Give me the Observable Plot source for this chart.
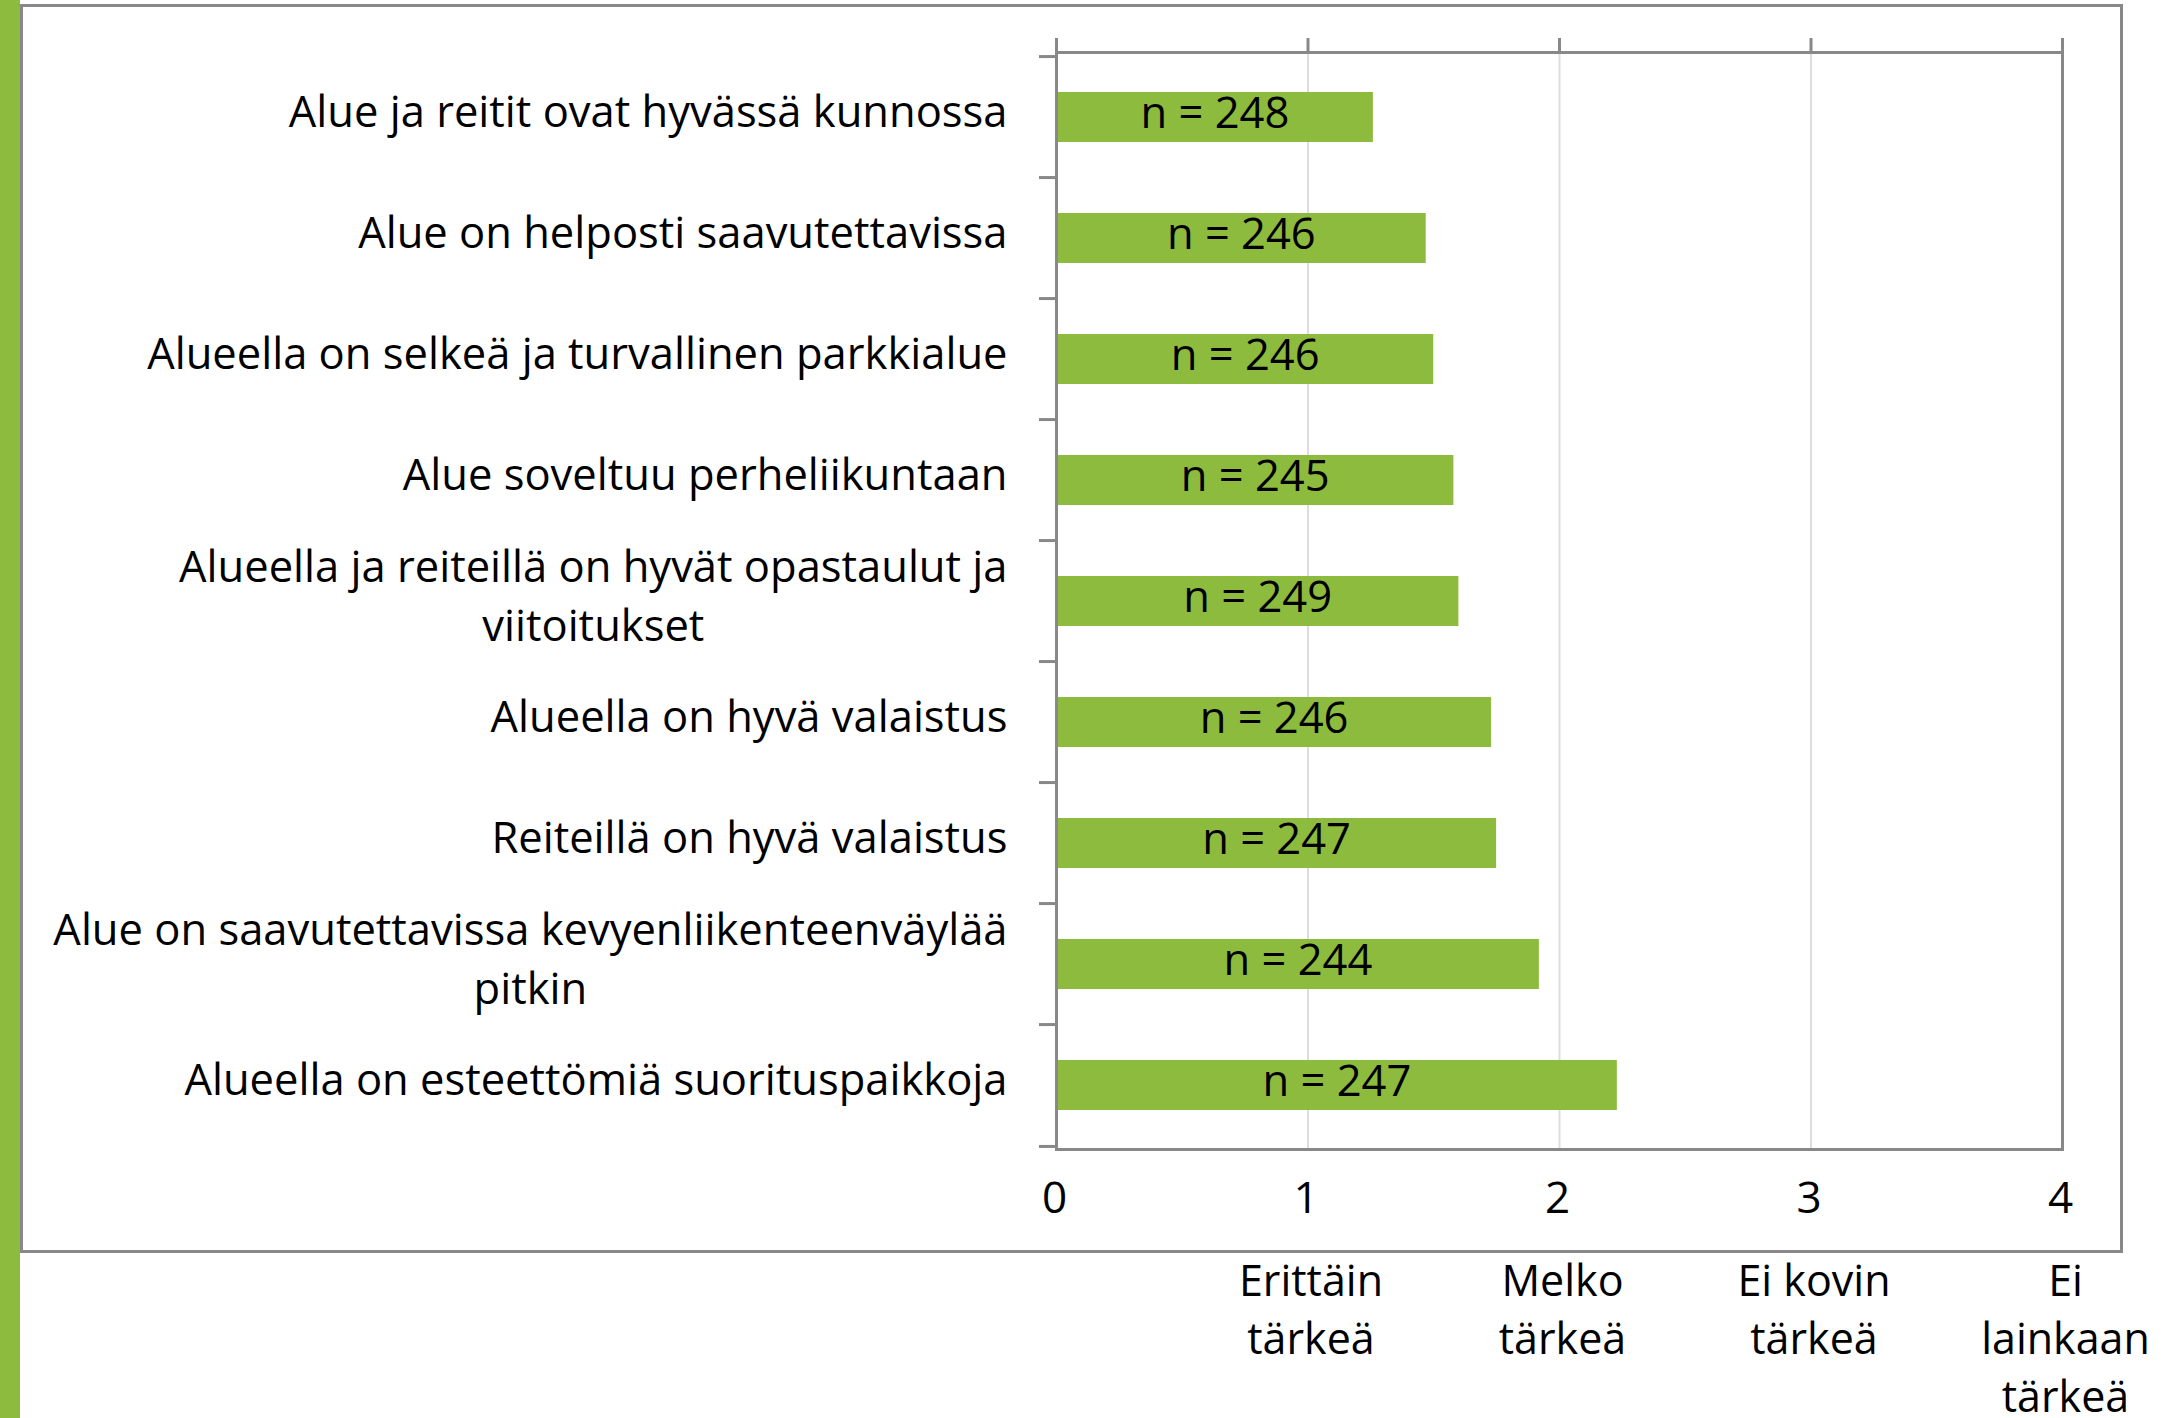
<!DOCTYPE html>
<html>
<head>
<meta charset="utf-8">
<script src="https://cdn.jsdelivr.net/npm/d3@7"></script>
<script src="https://cdn.jsdelivr.net/npm/@observablehq/plot@0.6"></script>
<style>
  html, body { margin: 0; padding: 0; background: #fff; overflow: hidden; }
  #page { position: relative; width: 2163px; height: 1418px; }
  #stripe { position: absolute; left: 0; top: 0; width: 20px; height: 1418px; background: #8dbb3e; }
  #box { position: absolute; left: 20px; top: 4px; width: 2103px; height: 1249px; box-sizing: border-box;
         border: 3px solid #888888; pointer-events: none; z-index: 2; }
  #chart { position: absolute; left: 0; top: 0; z-index: 1; }
  #chart svg { background: transparent !important; }
</style>
</head>
<body>
<div id="page">
  <div id="chart"></div>
  <div id="stripe"></div>
  <div id="box"></div>
</div>
<script>
const categories = [
  "Alue ja reitit ovat hyvässä kunnossa",
  "Alue on helposti saavutettavissa",
  "Alueella on selkeä ja turvallinen parkkialue",
  "Alue soveltuu perheliikuntaan",
  "Alueella ja reiteillä on hyvät opastaulut ja\nviitoitukset",
  "Alueella on hyvä valaistus",
  "Reiteillä on hyvä valaistus",
  "Alue on saavutettavissa kevyenliikenteenväylää\npitkin",
  "Alueella on esteettömiä suorituspaikkoja"
];
const values = [1.26, 1.47, 1.50, 1.58, 1.60, 1.73, 1.75, 1.92, 2.23];
const counts = [248, 246, 246, 245, 249, 246, 247, 244, 247];
const xTicks = [0, 1, 2, 3, 4];
const ratingValues = [1, 2, 3, 4];
const ratingLabels = ["Erittäin\ntärkeä", "Melko\ntärkeä", "Ei kovin\ntärkeä", "Ei\nlainkaan\ntärkeä"];

const data = categories.map((c, i) => ({label: c, value: values[i], n: counts[i]}));
const ratings = ratingValues.map((v, i) => ({x: v, text: ratingLabels[i]}));

const W = 2163, H = 1418;
const mL = 1056, mR = 101, mT = 52, mB = 269;
const step = (H - mT - mB) / categories.length;
const font = '"Open Sans", sans-serif';
const fs = 43.5;
const green = "#8dbb3e";
const axisGray = "#888888";

const ctx = document.createElement("canvas").getContext("2d");
ctx.font = `${fs}px "Open Sans"`;
const blockWidth = s => Math.max(...s.split("\n").map(l => ctx.measureText(l).width));

const labelMarks = categories.map(c =>
  Plot.text([c], {
    y: d => d, text: d => d, frameAnchor: "left", textAnchor: "middle",
    dx: -(49 + blockWidth(c) / 2), dy: -9,
    fontSize: fs, fontFamily: font, fill: "#000", lineHeight: 1.36
  })
);

const chart = Plot.plot({
  width: W, height: H,
  marginLeft: mL, marginRight: mR, marginTop: mT, marginBottom: mB,
  style: {fontFamily: font, background: "transparent", overflow: "visible"},
  x: {domain: [0, 4], axis: null, label: null},
  y: {domain: categories, paddingInner: 0.59, paddingOuter: 0.295, axis: null, label: null},
  marks: [
    Plot.gridX([1, 2, 3], {stroke: "#dddddd", strokeOpacity: 1, strokeWidth: 2}),
    Plot.barX(data, {x: "value", y: "label", fill: green}),
    Plot.text(data, {x: d => d.value / 2, y: "label", text: d => `n = ${d.n}`, dy: -3,
      fontSize: fs, fontFamily: font, fill: "#000"}),
    Plot.frame({stroke: axisGray, strokeWidth: 3}),
    Plot.axisX({anchor: "top", ticks: xTicks, tickSize: 15, text: null, label: null, stroke: axisGray, strokeWidth: 3}),
    Plot.axisX({anchor: "bottom", ticks: xTicks, tickSize: 0, tickPadding: 32, label: null, tickFormat: d => String(d),
      dx: -2, fontSize: 44, fontFamily: font, fill: "#000"}),
    Plot.axisY({anchor: "left", ticks: categories, tickSize: 17, text: null, label: null, dy: -step / 2, stroke: axisGray, strokeWidth: 3}),
    Plot.axisY({anchor: "left", ticks: [categories[categories.length - 1]], tickSize: 17, text: null, label: null, dy: step / 2, stroke: axisGray, strokeWidth: 3}),
    ...labelMarks,
    Plot.text(ratings, {x: "x", text: "text", frameAnchor: "bottom", lineAnchor: "top", dy: 105, dx: 3,
      textAnchor: "middle", fontSize: 43, fontFamily: font, fill: "#000", lineHeight: 1.35})
  ]
});
document.getElementById("chart").appendChild(chart);
</script>
</body>
</html>
